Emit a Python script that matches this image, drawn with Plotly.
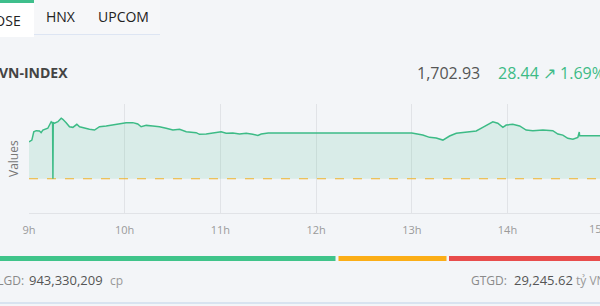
import plotly.graph_objects as go

# ---------------- data ----------------
session_date = "2025-08-11"
times = [
    "09:00:00", "09:01:48", "09:03:00", "09:04:30", "09:06:36", "09:07:36", "09:08:42",
    "09:11:48", "09:13:54", "09:14:48", "09:15:00", "09:15:12", "09:16:00", "09:18:06",
    "09:20:12", "09:21:12", "09:23:18", "09:25:24", "09:27:30", "09:30:00", "09:31:42",
    "09:34:48", "09:37:54", "09:41:06", "09:44:12", "09:48:24", "09:52:30", "09:56:42",
    "10:00:54", "10:05:06", "10:08:12", "10:10:18", "10:13:30", "10:17:36", "10:21:48",
    "10:26:00", "10:30:12", "10:34:24", "10:38:36", "10:44:48", "10:46:54", "10:51:06",
    "10:55:12", "11:00:30", "11:03:36", "11:07:48", "11:12:00", "11:16:12", "11:20:18",
    "11:23:30", "11:25:36", "11:28:42", "11:30:00",
    "13:00:00", "13:03:48", "13:06:54", "13:11:06", "13:15:18", "13:19:30", "13:23:42",
    "13:27:54", "13:34:06", "13:40:24", "13:44:30", "13:48:42", "13:50:48", "13:53:54",
    "13:57:06", "13:59:12", "14:03:18", "14:07:36", "14:11:42", "14:15:54", "14:22:12",
    "14:28:24", "14:31:36", "14:34:42", "14:37:48", "14:41:00", "14:44:06", "14:45:00",
    "14:45:12", "15:00:00",
]
index_values = [
    1698.9, 1700.0, 1705.5, 1706.2, 1706.0, 1704.9, 1706.6,
    1707.8, 1712.1, 1711.0, 1674.49, 1711.5, 1711.1, 1712.1,
    1714.4, 1713.7, 1711.5, 1708.8, 1708.4, 1710.4, 1708.8,
    1707.8, 1707.1, 1706.6, 1708.8, 1709.3, 1709.9, 1710.6,
    1711.5, 1711.5, 1710.6, 1708.8, 1709.7, 1709.3, 1708.8,
    1707.8, 1706.6, 1707.1, 1705.5, 1704.9, 1703.8, 1704.0,
    1704.5, 1705.5, 1704.5, 1704.7, 1704.0, 1704.5, 1703.8,
    1703.1, 1704.0, 1704.7, 1704.7,
    1704.7, 1704.0, 1703.3, 1701.8, 1701.4, 1700.0, 1702.7,
    1704.5, 1705.1, 1706.0, 1708.4, 1710.6, 1712.1, 1711.1,
    1708.4, 1709.9, 1710.4, 1709.3, 1706.6, 1706.2, 1706.6,
    1706.2, 1704.0, 1703.3, 1701.2, 1700.5, 1701.8, 1705.3,
    1702.93, 1702.93,
]
reference_price = 1674.49
hour_ticks = [9, 10, 11, 12, 13, 14, 15]
hour_labels = ["9h", "10h", "11h", "12h", "13h", "14h", "15h"]
x_range = ["09:00:00", "14:58:00"]
y_range = [1651.9, 1723.8]

index_name = "VN-INDEX"
last_value = "1,702.93"
change_text = "28.44 ↗ 1.69%"
tabs = ["HOSE", "HNX", "UPCOM"]
volume_label, volume_value, volume_unit = "KLGD:", "943,330,209", "cp"
turnover_label, turnover_value, turnover_unit = "GTGD:", "29,245.62", "tỷ VNĐ"

# ---------------- layout geometry ----------------
W, H = 600, 306
L, R, T, B = 29, 0, 104, 93
PW, PH = W - L - R, H - T - B

def px(x):
    return (x - L) / PW

def py(y):
    return (H - B - y) / PH

BG = "#f3f5f8"
GREEN = "#3dbb86"
FONT = "Open Sans, Noto Sans, sans-serif"

xs = [f"{session_date} {t}" for t in times]

fig = go.Figure()
fig.add_trace(go.Scatter(
    x=[f"{session_date} 09:00:00", f"{session_date} 15:00:00"],
    y=[reference_price, reference_price],
    mode="lines", line=dict(color="#f1b32c", width=1.2, dash="dash"),
    hoverinfo="skip", showlegend=False,
))
fig.add_trace(go.Scatter(
    x=xs, y=index_values, mode="lines",
    line=dict(color=GREEN, width=1.5, shape="linear"),
    fill="tonexty", fillcolor="rgba(61,187,134,0.14)",
    hoverinfo="skip", showlegend=False,
))

tickvals = [f"{session_date} {h:02d}:00:00" for h in hour_ticks[:-1]]

fig.update_layout(
    width=W, height=H,
    margin=dict(l=L, r=R, t=T, b=B),
    paper_bgcolor=BG, plot_bgcolor=BG,
    font=dict(family=FONT, color="#555"),
    showlegend=False,
    xaxis=dict(
        range=[f"{session_date} {x_range[0]}", f"{session_date} {x_range[1]}"],
        tickvals=tickvals, ticktext=hour_labels[:-1],
        showgrid=True, gridcolor="#e1e3e7", gridwidth=1,
        showline=True, linecolor="#e1e3e7", linewidth=1,
        zeroline=False, ticks="", ticklabelstandoff=7,
        tickfont=dict(size=11, color="#9a9a9a", family=FONT),
        fixedrange=True,
    ),
    yaxis=dict(
        range=y_range, showgrid=False, showticklabels=False,
        zeroline=False, showline=False, fixedrange=True,
    ),
)

shapes = []
# tab bar
shapes.append(dict(type="rect", xref="paper", yref="paper",
                   x0=px(34), x1=px(160), y0=py(34), y1=py(0),
                   fillcolor="#f6f7f9", line=dict(width=0), layer="below"))
shapes.append(dict(type="line", xref="paper", yref="paper",
                   x0=px(34), x1=px(160), y0=py(34.5), y1=py(34.5),
                   line=dict(color="#dde5f3", width=1)))
shapes.append(dict(type="rect", xref="paper", yref="paper",
                   x0=px(0), x1=px(34), y0=py(37), y1=py(0),
                   fillcolor="#ffffff", line=dict(width=0), layer="below"))
shapes.append(dict(type="rect", xref="paper", yref="paper",
                   x0=px(0), x1=px(34), y0=py(3), y1=py(0),
                   fillcolor="#3fbf8c", line=dict(width=0)))
# breadth bar
for x0, x1, c in [(0, 335.5, "#3fc48a"), (338.5, 446.5, "#fbae17"), (449, 600, "#e84c4c")]:
    shapes.append(dict(type="rect", xref="paper", yref="paper",
                       x0=px(x0), x1=px(x1), y0=py(261), y1=py(256),
                       fillcolor=c, line=dict(width=0)))
# bottom separator
shapes.append(dict(type="rect", xref="paper", yref="paper",
                   x0=px(0), x1=px(600), y0=py(304), y1=py(302),
                   fillcolor="#d8e3f0", line=dict(width=0)))
fig.update_layout(shapes=shapes)

ann = []
def text(x, y, s, size, color, xanchor="left", bold=False, angle=0):
    ann.append(dict(xref="paper", yref="paper", x=px(x), y=py(y), text=(f"<b>{s}</b>" if bold else s),
                    showarrow=False, xanchor=xanchor, yanchor="middle", textangle=angle,
                    font=dict(size=size, color=color, family=FONT)))

# tabs
text(22.5, 20, tabs[0], 14, "#222", xanchor="right")
text(44, 17, tabs[1], 14, "#222")
text(96, 17, tabs[2], 14, "#222")
# header
text(69.5, 72, index_name, 14, "#444", xanchor="right", bold=True)
text(482.5, 73, last_value, 16, "#555", xanchor="right")
text(496, 73, change_text, 16, GREEN)
# y axis title
text(13, 159, "Values", 12, "#777", xanchor="center", angle=-90)
# last tick label, partly beyond the visible area
text(598, 228, hour_labels[-1], 11, "#9a9a9a", xanchor="center")
# footer
text(26, 280, volume_label, 12, "#8a8a8a", xanchor="right")
text(26.5, 280, volume_value, 13, "#555")
text(108, 280, volume_unit, 12, "#999")
text(469, 280, turnover_label, 12, "#8a8a8a")
text(512, 280, turnover_value, 13, "#555")
text(574, 280, turnover_unit, 12, "#999")
fig.update_layout(annotations=ann)

fig.write_html("out.html", config={"displayModeBar": False, "staticPlot": True})
